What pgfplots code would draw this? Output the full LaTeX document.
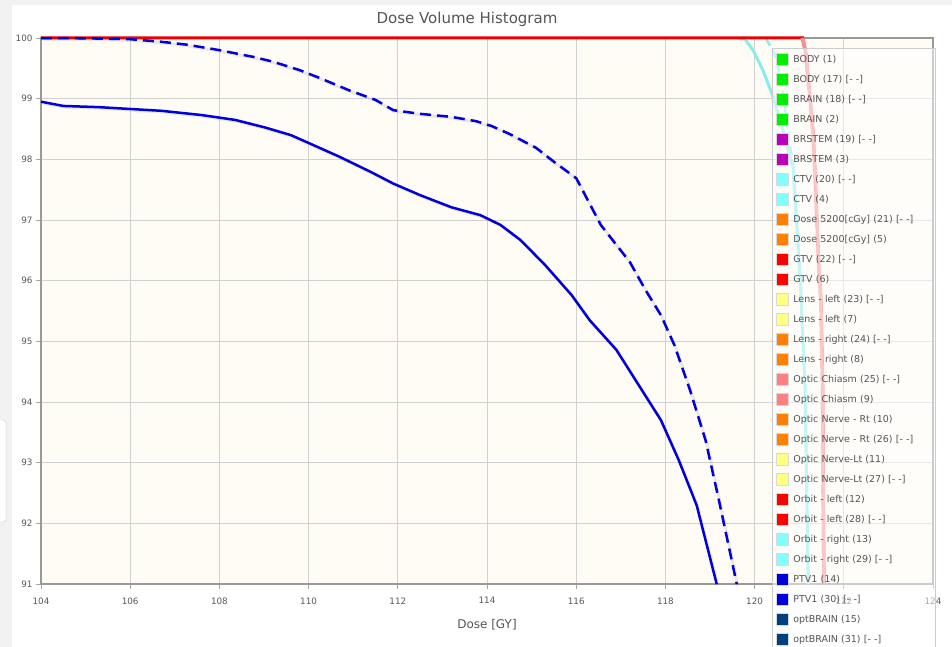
\documentclass[border=0pt]{standalone}
\usepackage{fontspec}
\setmainfont{DejaVu Sans}
\usepackage{pgfplots}
\pgfplotsset{compat=1.18}
\usepackage{pgfplotstable}

\definecolor{plotbg}{HTML}{FFFCF5}
\definecolor{ptvblue}{HTML}{0000DD}
\definecolor{cyanl}{HTML}{88ECEC}
\definecolor{pinkl}{HTML}{F79090}
\definecolor{redl}{HTML}{EE0000}
\definecolor{lgreen}{HTML}{00EE00}
\definecolor{lpurple}{HTML}{BB00BB}
\definecolor{lcyan}{HTML}{80FFFF}
\definecolor{lorange}{HTML}{FF8000}
\definecolor{lred}{HTML}{FF0000}
\definecolor{lyellow}{HTML}{FFFF80}
\definecolor{lpink}{HTML}{FF8080}
\definecolor{lblue}{HTML}{0000DD}
\definecolor{lnavy}{HTML}{004080}
\definecolor{txt}{HTML}{555555}

\pgfplotstableread{
x y
104 98.95
104.5 98.88
105.3 98.86
106 98.83
106.7 98.80
107.6 98.73
108.35 98.65
109 98.53
109.6 98.40
110 98.27
110.7 98.04
111.4 97.79
111.9 97.60
112.5 97.41
113.2 97.21
113.85 97.08
114.3 96.92
114.75 96.67
115.3 96.26
115.9 95.76
116.3 95.35
116.9 94.86
117.4 94.28
117.9 93.70
118.3 93.04
118.7 92.30
119.15 91.0
}\ptvsolid

\pgfplotstableread{
x y
104 100
105 99.995
106 99.98
106.67 99.94
107.27 99.89
108.0 99.80
108.75 99.69
109.2 99.61
109.8 99.47
110.25 99.34
110.9 99.14
111.5 98.98
111.9 98.81
112.5 98.75
113.2 98.70
113.75 98.63
114.1 98.55
114.5 98.42
115.1 98.19
115.5 97.96
116.0 97.69
116.2 97.41
116.55 96.92
116.9 96.59
117.2 96.31
117.55 95.85
117.9 95.43
118.2 94.94
118.55 94.20
118.9 93.37
119.2 92.38
119.6 91.0
}\ptvdash

\pgfplotstableread{
x y
119.67 100
119.785 99.98
119.964 99.80
120.188 99.47
120.413 99.03
120.637 98.48
120.749 98.15
120.861 97.87
120.951 96.84
121.033 95.85
121.13 94.20
121.168 92.55
121.202 91.0
}\cyansolid

\pgfplotstableread{
x y
120.25 100
120.46 99.72
120.62 99.20
120.76 98.40
120.87 97.87
120.96 96.84
121.04 95.85
121.14 94.20
121.178 92.55
121.212 91.0
}\cyandash

\pgfplotstableread{
x y
121.085 100
121.152 99.75
121.242 99.03
121.309 98.48
121.354 97.87
121.444 96.23
121.489 95.68
121.527 94.20
121.540 92.55
121.559 91.0
}\pinksolid

\pgfplotstableread{
x y
121.06 100
121.13 99.75
121.222 99.03
121.289 98.48
121.334 97.87
121.424 96.23
121.469 95.68
121.507 94.20
121.520 92.55
121.539 91.0
}\pinkdash

\pgfplotstableread{
x y
104 100
121.08 100
121.15 99.75
121.24 99.03
121.31 98.48
121.35 97.87
121.44 96.23
121.49 95.68
121.53 94.20
121.54 92.55
121.559 91.0
}\gtvline

\begin{document}
\begin{tikzpicture}
% page background
\fill[black!5] (-41pt,-63pt) rectangle (911pt,584pt);
\fill[white] (-29pt,-63pt) rectangle (911pt,579pt);
\draw[black!22, fill=white, rounded corners=3pt] (-50pt,62pt) rectangle (-35pt,164pt);

\begin{axis}[
 scale only axis, width=892pt, height=546pt,
 xmin=104, xmax=124, ymin=91, ymax=100,
 xtick={104,106,...,124}, ytick={91,92,...,100},
 clip=false,
 axis background/.style={fill=plotbg},
 grid=major, grid style={draw=black!18, line width=0.8pt},
 axis line style={draw=black!40, line width=1.5pt},
 tick style={draw=black!35, line width=0.8pt},
 major tick length=5pt, tick align=outside,
 xtick pos=bottom, ytick pos=left,
 ticklabel style={font=\fontsize{8.8}{10}\selectfont, text=black!65},
 xticklabel style={yshift=-5pt},
 /pgf/number format/assume math mode=true,
 xlabel={Dose [GY]},
 xlabel style={font=\fontsize{12}{14}\selectfont, text=txt, at={(axis description cs:0.5,-0.0751)}, anchor=center},
 legend cell align=left,
 legend image code/.code={\draw[#1, draw=black!15, line width=1.4pt, fill opacity=1] (0pt,-6pt) rectangle (12pt,6pt);},
 legend style={at={(axis description cs:0.8195,0.9817)}, anchor=north west,
   fill=white, fill opacity=0.5, text opacity=1, draw=black!20, draw opacity=1,
   line width=0.8pt, inner xsep=3.5pt, inner ysep=1pt,
   font=\fontsize{9.5}{11}\selectfont, text=txt, /tikz/column sep=2pt,
   nodes={minimum height=20pt, inner xsep=2pt, inner ysep=0pt, text width=137pt, align=left}},
]
% curves
\addplot[forget plot, draw=cyanl, line width=2.5pt, dash pattern=on 9pt off 5pt] table {\cyandash};
\addplot[forget plot, draw=cyanl, line width=3pt] table {\cyansolid};
\addplot[forget plot, draw=redl, line width=3pt] table {\gtvline};
\addplot[forget plot, draw=pinkl, line width=2.5pt, dash pattern=on 9pt off 5pt] table {\pinkdash};
\addplot[forget plot, draw=pinkl, line width=3pt] table {\pinksolid};
\addplot[forget plot, draw=black, draw opacity=0.08, line width=3pt, xshift=1pt, yshift=-1.2pt] table {\ptvdash};
\addplot[forget plot, draw=ptvblue, line width=2.5pt, dash pattern=on 11pt off 6pt] table {\ptvdash};
\addplot[forget plot, draw=black, draw opacity=0.08, line width=3pt, xshift=1pt, yshift=-1.2pt] table {\ptvsolid};
\addplot[forget plot, draw=ptvblue, line width=2.5pt] table {\ptvsolid};

% legend
\addlegendimage{fill=lgreen}\addlegendentry{BODY (1)}
\addlegendimage{fill=lgreen}\addlegendentry{BODY (17) [- -]}
\addlegendimage{fill=lgreen}\addlegendentry{BRAIN (18) [- -]}
\addlegendimage{fill=lgreen}\addlegendentry{BRAIN (2)}
\addlegendimage{fill=lpurple}\addlegendentry{BRSTEM (19) [- -]}
\addlegendimage{fill=lpurple}\addlegendentry{BRSTEM (3)}
\addlegendimage{fill=lcyan}\addlegendentry{CTV (20) [- -]}
\addlegendimage{fill=lcyan}\addlegendentry{CTV (4)}
\addlegendimage{fill=lorange}\addlegendentry{Dose 5200[cGy] (21) [- -]}
\addlegendimage{fill=lorange}\addlegendentry{Dose 5200[cGy] (5)}
\addlegendimage{fill=lred}\addlegendentry{GTV (22) [- -]}
\addlegendimage{fill=lred}\addlegendentry{GTV (6)}
\addlegendimage{fill=lyellow}\addlegendentry{Lens - left (23) [- -]}
\addlegendimage{fill=lyellow}\addlegendentry{Lens - left (7)}
\addlegendimage{fill=lorange}\addlegendentry{Lens - right (24) [- -]}
\addlegendimage{fill=lorange}\addlegendentry{Lens - right (8)}
\addlegendimage{fill=lpink}\addlegendentry{Optic Chiasm (25) [- -]}
\addlegendimage{fill=lpink}\addlegendentry{Optic Chiasm (9)}
\addlegendimage{fill=lorange}\addlegendentry{Optic Nerve - Rt (10)}
\addlegendimage{fill=lorange}\addlegendentry{Optic Nerve - Rt (26) [- -]}
\addlegendimage{fill=lyellow}\addlegendentry{Optic Nerve-Lt (11)}
\addlegendimage{fill=lyellow}\addlegendentry{Optic Nerve-Lt (27) [- -]}
\addlegendimage{fill=lred}\addlegendentry{Orbit - left (12)}
\addlegendimage{fill=lred}\addlegendentry{Orbit - left (28) [- -]}
\addlegendimage{fill=lcyan}\addlegendentry{Orbit - right (13)}
\addlegendimage{fill=lcyan}\addlegendentry{Orbit - right (29) [- -]}
\addlegendimage{fill=lblue}\addlegendentry{PTV1 (14)}
\addlegendimage{fill=lblue}\addlegendentry{PTV1 (30) [- -]}
\addlegendimage{fill=lnavy}\addlegendentry{optBRAIN (15)}
\addlegendimage{fill=lnavy}\addlegendentry{optBRAIN (31) [- -]}
\end{axis}
\node[font=\fontsize{15}{18}\selectfont, text=txt] at (426pt,565pt) {Dose Volume Histogram};
\pgfresetboundingbox
\path[use as bounding box] (-41pt,-63pt) rectangle (911pt,584pt);
\end{tikzpicture}
\end{document}
